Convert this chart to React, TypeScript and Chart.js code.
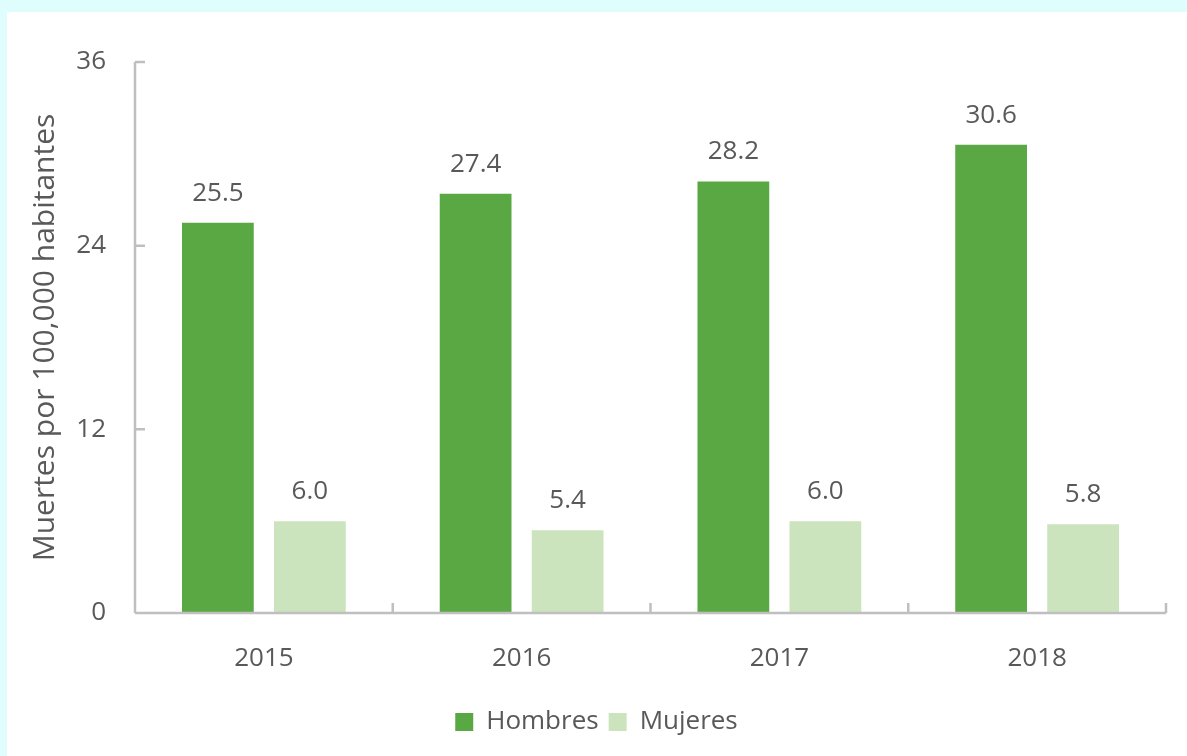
import React, { useEffect, useRef } from "react";
import { Chart, registerables } from "chart.js";

Chart.register(...registerables);

const categories = ["2015", "2016", "2017", "2018"];
const hombres = [25.5, 27.4, 28.2, 30.6];
const mujeres = [6.0, 5.4, 6.0, 5.8];
const seriesNames = ["Hombres", "Mujeres"];
const yTicks = [0, 12, 24, 36];
const yTitle = "Muertes por 100,000 habitantes";

const FONT = "'Open Sans', sans-serif";
const TEXT = "#595959";
const AXIS = "#bfbfbf";

const bgPlugin = {
  id: "bg",
  beforeDraw(chart: any) {
    const { ctx, width, height } = chart;
    ctx.save();
    ctx.fillStyle = "#e0fdfe";
    ctx.fillRect(0, 0, width, height);
    ctx.fillStyle = "#ffffff";
    ctx.fillRect(7, 12, width - 7, height - 12);
    ctx.restore();
  },
};

const axesPlugin = {
  id: "axesInside",
  afterDatasetsDraw(chart: any) {
    const { ctx, chartArea } = chart;
    const y = chart.scales.y;
    ctx.save();
    ctx.strokeStyle = AXIS;
    ctx.lineWidth = 2.5;
    ctx.beginPath();
    ctx.moveTo(chartArea.left, chartArea.top);
    ctx.lineTo(chartArea.left, chartArea.bottom);
    ctx.moveTo(chartArea.left, chartArea.bottom);
    ctx.lineTo(chartArea.right, chartArea.bottom);
    yTicks.forEach((v) => {
      const py = y.getPixelForValue(v);
      ctx.moveTo(chartArea.left, py);
      ctx.lineTo(chartArea.left + 10, py);
    });
    const n = categories.length;
    for (let i = 0; i <= n; i++) {
      const px = chartArea.left + ((chartArea.right - chartArea.left) * i) / n;
      ctx.moveTo(px, chartArea.bottom);
      ctx.lineTo(px, chartArea.bottom - 10);
    }
    ctx.stroke();
    ctx.restore();
  },
};

const labelPlugin = {
  id: "valueLabels",
  afterDatasetsDraw(chart: any) {
    const { ctx } = chart;
    ctx.save();
    ctx.fillStyle = TEXT;
    ctx.font = `26px ${FONT}`;
    ctx.textAlign = "center";
    ctx.textBaseline = "alphabetic";
    chart.data.datasets.forEach((ds: any, di: number) => {
      const meta = chart.getDatasetMeta(di);
      meta.data.forEach((el: any, i: number) => {
        ctx.fillText(Number(ds.data[i]).toFixed(1), el.x, el.y - 22);
      });
    });
    ctx.restore();
  },
};

export default function App() {
  const ref = useRef<HTMLCanvasElement>(null);
  useEffect(() => {
    const chart = new Chart(ref.current!, {
      type: "bar",
      data: {
        labels: categories,
        datasets: [
          { label: seriesNames[0], data: hombres, backgroundColor: "#5aa843" },
          { label: seriesNames[1], data: mujeres, backgroundColor: "#cce4bd" },
        ],
      },
      options: {
        responsive: false,
        animation: false,
        devicePixelRatio: 1,
        layout: { padding: { left: 27, right: 21, top: 62, bottom: 11 } },
        datasets: { bar: { categoryPercentage: 0.714, barPercentage: 0.78 } },
        scales: {
          x: {
            grid: { display: false },
            border: { display: false },
            ticks: { color: TEXT, font: { family: FONT, size: 26 }, padding: 22 },
            afterFit: (s: any) => { s.height = 86; },
          },
          y: {
            min: 0,
            max: 36,
            grid: { display: false },
            border: { display: false },
            ticks: {
              stepSize: 12,
              color: TEXT,
              font: { family: FONT, size: 26 },
              padding: 21,
            },
            title: {
              display: true,
              text: yTitle,
              color: TEXT,
              font: { family: FONT, size: 30 },
              padding: 0,
            },
            afterFit: (s: any) => { s.width = 108; },
          },
        },
        plugins: {
          legend: {
            position: "bottom",
            labels: {
              color: TEXT,
              font: { family: FONT, size: 26 },
              boxWidth: 18,
              boxHeight: 18,
              padding: 10,
            },
          },
          tooltip: { enabled: false },
        },
      },
      plugins: [bgPlugin, axesPlugin, labelPlugin],
    });
    return () => chart.destroy();
  }, []);
  return (
    <div style={{ position: "fixed", left: 0, top: 0, width: 1187, height: 756 }}>
      <canvas ref={ref} width={1187} height={756} style={{ display: "block" }} />
    </div>
  );
}
